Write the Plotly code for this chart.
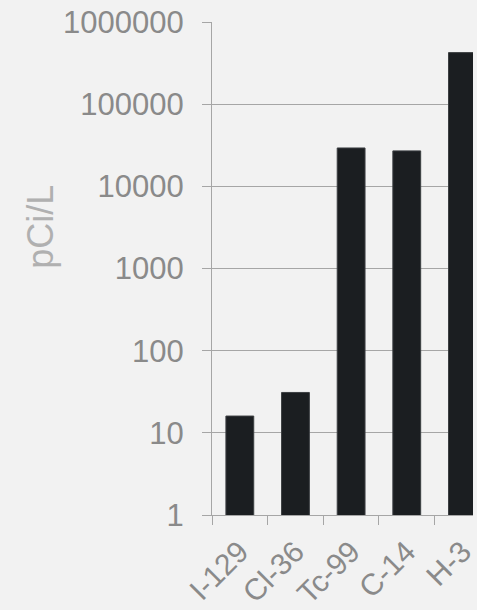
import plotly.graph_objects as go

categories = ["I-129", "Cl-36", "Tc-99", "C-14", "H-3"]
values = [16, 31, 29300, 27000, 424000]
y_tick_vals = [1, 10, 100, 1000, 10000, 100000, 1000000]
y_tick_text = ["1", "10", "100", "1000", "10000", "100000", "1000000"]

W, H = 477, 610
L, T, B = 212, 22, 94
plot_w = W - L
cat_px = 56.5
x_max = -0.5 + plot_w / cat_px

fig = go.Figure(go.Bar(
    x=categories, y=values,
    marker=dict(color="#1b1e21", line=dict(color="#3c3f42", width=1)),
    width=0.5,
))

font = "Liberation Sans, Arial, sans-serif"
axis_col = "#a6a6a6"
lab_col = "#8a8a8a"

fig.update_layout(
    width=W, height=H,
    margin=dict(l=L, r=0, t=T, b=B, pad=0),
    paper_bgcolor="#f2f2f2", plot_bgcolor="#f2f2f2",
    showlegend=False,
    font=dict(family=font, color=lab_col),
    xaxis=dict(
        type="category", range=[-0.5, x_max],
        tickson="boundaries", ticks="outside", ticklen=9, tickcolor=axis_col, tickwidth=1,
        showline=True, linecolor=axis_col, linewidth=1,
        showgrid=False, tickangle=-45,
        tickfont=dict(size=30, color=lab_col, family=font),
        ticklabelstandoff=6,
    ),
    yaxis=dict(
        type="log", range=[0, 6],
        tickvals=y_tick_vals, ticktext=y_tick_text,
        ticks="outside", ticklen=9, tickcolor=axis_col, tickwidth=1,
        showline=True, linecolor=axis_col, linewidth=1,
        showgrid=True, gridcolor=axis_col, gridwidth=1,
        tickfont=dict(size=31, color=lab_col, family=font),
        ticklabelstandoff=12,
        zeroline=False,
    ),
    annotations=[dict(
        text="pCi/L", textangle=-90, showarrow=False,
        xref="paper", yref="paper",
        x=(37 - L) / plot_w, y=(H - B - 227.5) / (H - B - T),
        xanchor="center", yanchor="middle",
        font=dict(size=36, color="#b0b0b0", family=font),
    )],
)

fig.write_html("out.html")
